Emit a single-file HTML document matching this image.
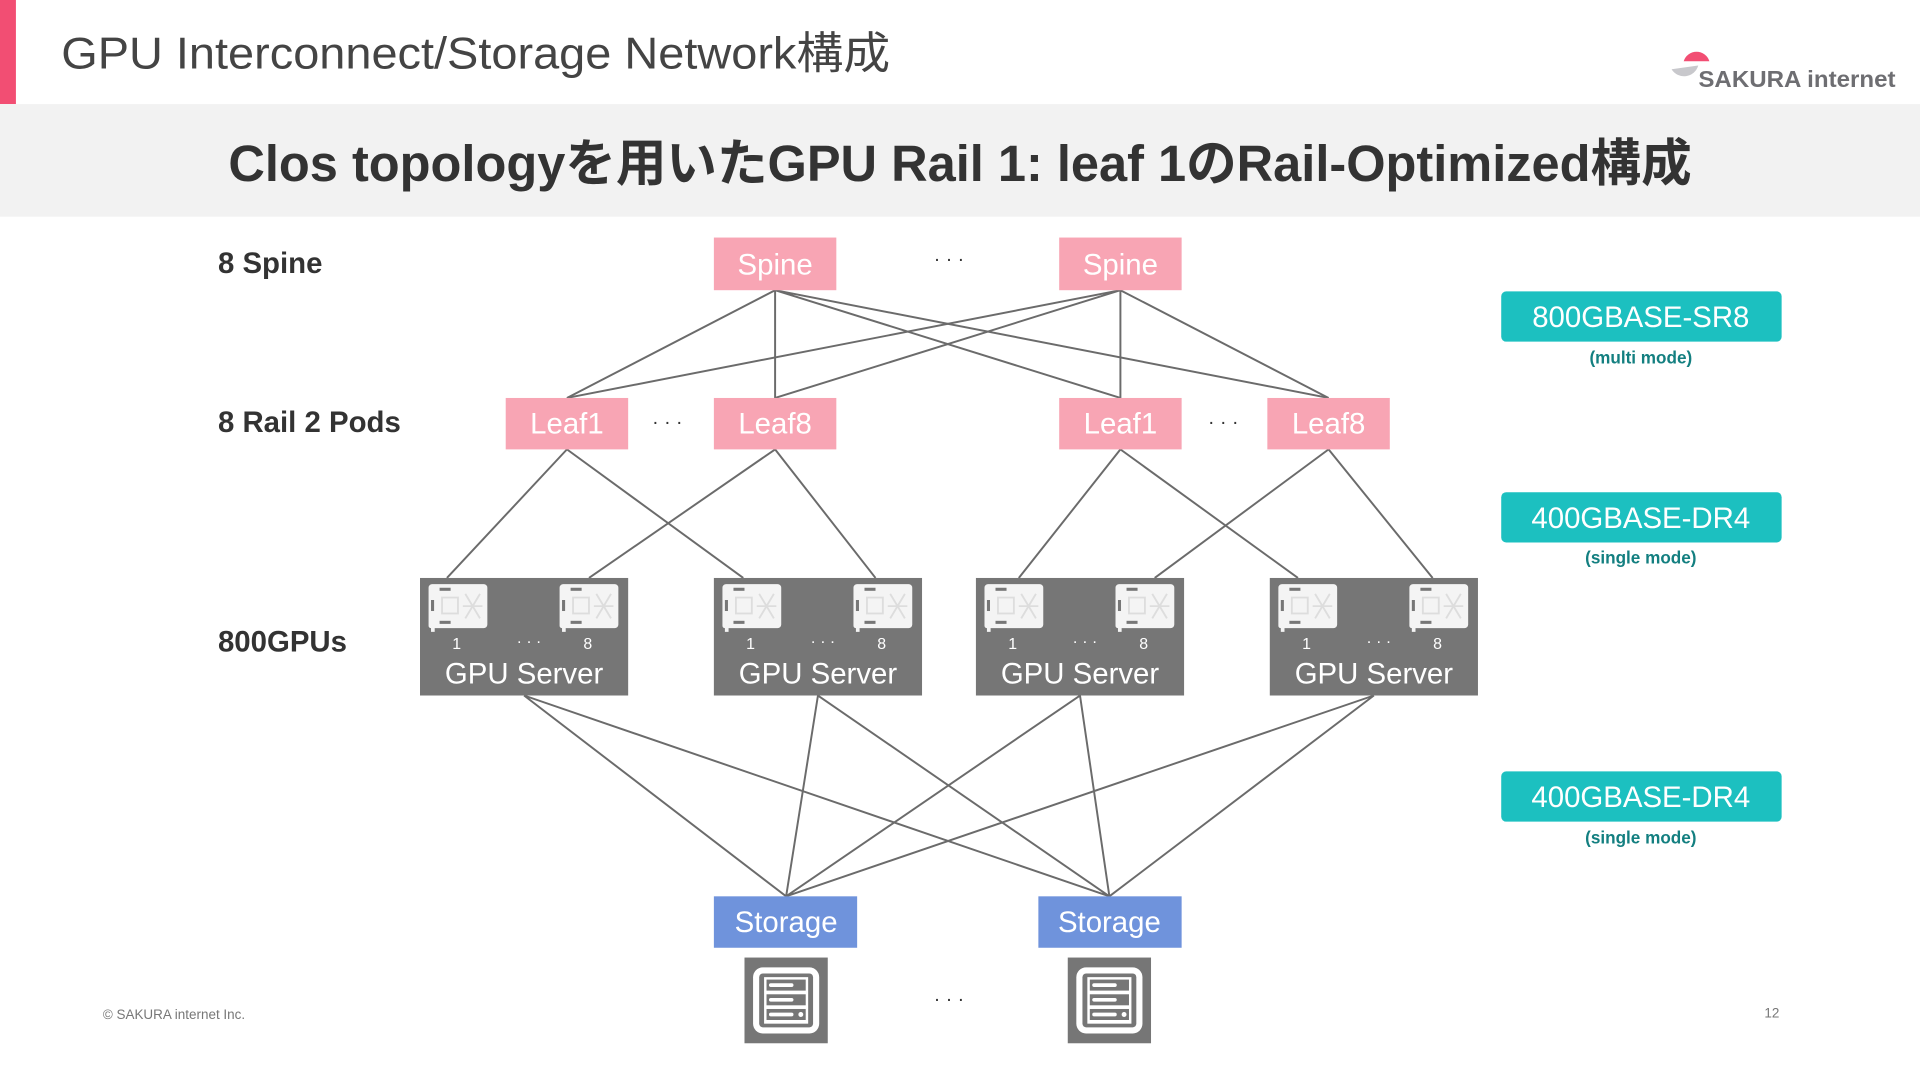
<!DOCTYPE html>
<html><head><meta charset="utf-8"><style>
html,body{margin:0;padding:0;background:#fff;}
svg{display:block;}
text{font-family:"Liberation Sans","Noto Sans CJK JP",sans-serif;}
</style></head><body>
<svg width="1920" height="1080" viewBox="0 0 1568 882" xmlns="http://www.w3.org/2000/svg">
<defs>
<g id="card">
  <path d="M0,3 a3,3 0 0 1 3,-3 h42 a3,3 0 0 1 3,3 v30 a3,3 0 0 1 -3,3 h-40 v3 h-3 v-3 a2,2 0 0 1 -2,-2 z" fill="#f4f4f4"/>
  <rect x="11" y="11" width="13" height="13" fill="none" stroke="#ddd" stroke-width="1.5"/>
  <rect x="9" y="3" width="9" height="2.5" fill="#777"/>
  <rect x="9" y="30" width="9" height="2.5" fill="#777"/>
  <rect x="2" y="13" width="2.5" height="9" fill="#777"/>
  <path d="M30,8 l12,20 M42,8 l-12,20 M28,18 h16" stroke="#ddd" stroke-width="1.5"/>
</g>
<g id="server">
  <rect x="0" y="0" width="170" height="96" fill="#767676"/>
  <use href="#card" x="7" y="5"/>
  <use href="#card" x="114" y="5"/>
  <text x="30" y="58" font-size="13" fill="#fff" text-anchor="middle">1</text>
  <text x="89" y="56" font-size="13" fill="#fff" text-anchor="middle">· · ·</text>
  <text x="137" y="58" font-size="13" fill="#fff" text-anchor="middle">8</text>
  <text x="85" y="86" font-size="24" fill="#fff" text-anchor="middle">GPU Server</text>
</g>
<g id="stor">
  <rect x="0" y="0" width="68" height="70" fill="#767676"/>
  <rect x="7" y="8" width="54" height="54" rx="8" fill="#fff"/>
  <rect x="12" y="13" width="44" height="44" rx="3" fill="#767676"/>
  <rect x="16" y="16" width="36" height="38" fill="#fff"/>
  <rect x="18" y="18" width="32" height="9" fill="#767676"/>
  <rect x="18" y="30" width="32" height="9" fill="#767676"/>
  <rect x="18" y="42" width="32" height="9" fill="#767676"/>
  <rect x="20" y="21" width="20" height="3" rx="1.5" fill="#fff"/>
  <rect x="20" y="33" width="20" height="3" rx="1.5" fill="#fff"/>
  <rect x="20" y="45" width="20" height="3" rx="1.5" fill="#fff"/>
  <circle cx="46" cy="46.5" r="2" fill="#fff"/>
</g>
</defs>

<rect x="0" y="0" width="13" height="85" fill="#f24e73"/>
<text x="50" y="56" font-size="36" fill="#444" textLength="677" lengthAdjust="spacingAndGlyphs">GPU Interconnect/Storage Network構成</text>

<!-- logo -->
<path d="M1375,50 a11,11 0 0 1 21,0 z" fill="#f24e73"/>
<path d="M1365,55 h22 a12,12 0 0 1 -22,0 z" fill="#c8c8cc" transform="rotate(-8 1376 55)"/>
<text x="1387" y="71" font-size="19" font-weight="bold" fill="#6e6e72" textLength="161" lengthAdjust="spacingAndGlyphs">SAKURA internet</text>

<rect x="0" y="85" width="1568" height="92" fill="#f2f2f2"/>
<text x="784" y="148" font-size="42" font-weight="bold" fill="#333" text-anchor="middle" textLength="1195" lengthAdjust="spacingAndGlyphs">Clos topologyを用いたGPU Rail 1: leaf 1のRail-Optimized構成</text>

<text x="178" y="223" font-size="24" font-weight="bold" fill="#333">8 Spine</text>
<text x="178" y="353" font-size="24" font-weight="bold" fill="#333">8 Rail 2 Pods</text>
<text x="178" y="532" font-size="24" font-weight="bold" fill="#333">800GPUs</text>

<g stroke="#6b6b6b" stroke-width="1.6" fill="none">
  <path d="M633,237 L463,325 M633,237 L633,325 M633,237 L915,325 M633,237 L1085,325"/>
  <path d="M915,237 L463,325 M915,237 L633,325 M915,237 L915,325 M915,237 L1085,325"/>
  <path d="M463,367 L365,472 M463,367 L607,472 M633,367 L481,472 M633,367 L715,472"/>
  <path d="M915,367 L832,472 M915,367 L1060,472 M1085,367 L943,472 M1085,367 L1170,472"/>
  <path d="M428,568 L642,732 M428,568 L906,732 M668,568 L642,732 M668,568 L906,732"/>
  <path d="M882,568 L642,732 M882,568 L906,732 M1122,568 L642,732 M1122,568 L906,732"/>
</g>

<g font-size="24" fill="#fff" text-anchor="middle">
  <rect x="583" y="194" width="100" height="43" fill="#f8a5b4"/><text x="633" y="224">Spine</text>
  <rect x="865" y="194" width="100" height="43" fill="#f8a5b4"/><text x="915" y="224">Spine</text>
  <rect x="413" y="325" width="100" height="42" fill="#f8a5b4"/><text x="463" y="354">Leaf1</text>
  <rect x="583" y="325" width="100" height="42" fill="#f8a5b4"/><text x="633" y="354">Leaf8</text>
  <rect x="865" y="325" width="100" height="42" fill="#f8a5b4"/><text x="915" y="354">Leaf1</text>
  <rect x="1035" y="325" width="100" height="42" fill="#f8a5b4"/><text x="1085" y="354">Leaf8</text>
  <rect x="583" y="732" width="117" height="42" fill="#6f93dc"/><text x="642" y="761">Storage</text>
  <rect x="848" y="732" width="117" height="42" fill="#6f93dc"/><text x="906" y="761">Storage</text>
</g>
<g font-size="16" fill="#333" text-anchor="middle">
  <text x="775" y="217">· · ·</text>
  <text x="545" y="350">· · ·</text>
  <text x="999" y="350">· · ·</text>
  <text x="775" y="821">· · ·</text>
</g>

<use href="#server" x="343" y="472"/>
<use href="#server" x="583" y="472"/>
<use href="#server" x="797" y="472"/>
<use href="#server" x="1037" y="472"/>

<use href="#stor" x="608" y="782"/>
<use href="#stor" x="872" y="782"/>

<g text-anchor="middle">
  <rect x="1226" y="238" width="229" height="41" rx="4" fill="#1cc0c0"/>
  <text x="1340" y="267" font-size="24" fill="#fff">800GBASE-SR8</text>
  <text x="1340" y="297" font-size="14" font-weight="bold" fill="#137f80">(multi mode)</text>
  <rect x="1226" y="402" width="229" height="41" rx="4" fill="#1cc0c0"/>
  <text x="1340" y="431" font-size="24" fill="#fff">400GBASE-DR4</text>
  <text x="1340" y="460" font-size="14" font-weight="bold" fill="#137f80">(single mode)</text>
  <rect x="1226" y="630" width="229" height="41" rx="4" fill="#1cc0c0"/>
  <text x="1340" y="659" font-size="24" fill="#fff">400GBASE-DR4</text>
  <text x="1340" y="689" font-size="14" font-weight="bold" fill="#137f80">(single mode)</text>
</g>

<text x="84" y="832" font-size="11" fill="#777">© SAKURA internet Inc.</text>
<text x="1447" y="831" font-size="11" fill="#777" text-anchor="middle">12</text>
</svg>
</body></html>
